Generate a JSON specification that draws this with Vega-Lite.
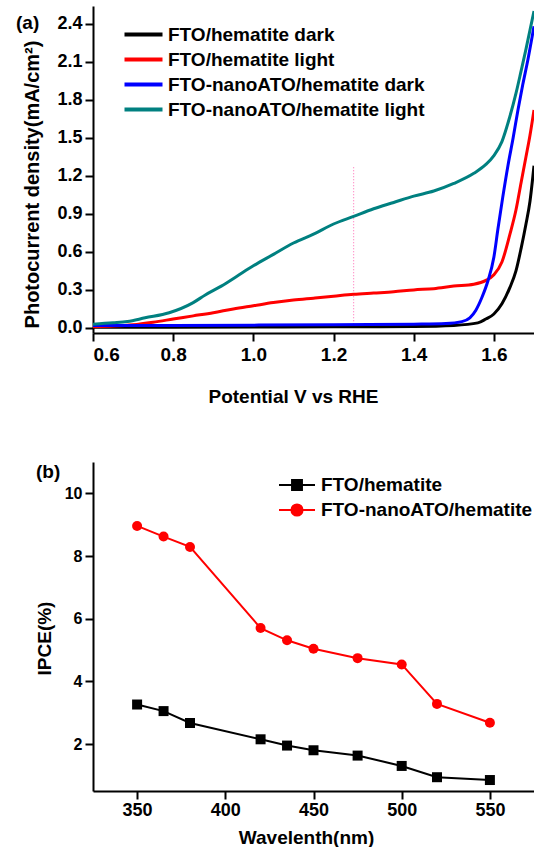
{
  "$schema": "https://vega.github.io/schema/vega-lite/v6.json",
  "background": "white",
  "padding": {"left": 16, "top": 6, "right": 0, "bottom": 0},
  "spacing": 56,
  "config": {
    "font": "Liberation Sans",
    "view": {"stroke": null},
    "axis": {"domainColor": "black", "domainWidth": 2, "tickColor": "black", "tickWidth": 2, "tickSize": 8, "labelColor": "black", "labelFont": "Liberation Sans", "labelFontWeight": "bold", "titleColor": "black", "titleFont": "Liberation Sans", "titleFontWeight": "bold", "grid": false},
    "legend": {"labelFont": "Liberation Sans", "labelFontWeight": "bold", "labelFontSize": 19, "labelColor": "black", "labelLimit": 500, "padding": 0}
  },
  "resolve": {"scale": {"color": "independent"}, "legend": {"color": "independent"}},
  "vconcat": [
    {
      "width": 441,
      "height": 327,
      "title": {"text": "(a)", "anchor": "start", "frame": "group", "dx": -77, "offset": -27, "fontSize": 19, "fontWeight": "bold", "font": "Liberation Sans", "color": "black"},
      "layer": [
        {
          "data": {"values": [{"V": 1.25, "J": 0.03, "J2": 1.28}]},
          "mark": {"type": "rule", "color": "#ff7fbf", "strokeDash": [1, 2], "strokeWidth": 1.2},
          "encoding": {
            "x": {"field": "V", "type": "quantitative"},
            "y": {"field": "J", "type": "quantitative"},
            "y2": {"field": "J2"}
          }
        },
        {
          "data": {"values": [
            {"series": "FTO/hematite dark", "V": 0.6, "J": 0.005},
            {"series": "FTO/hematite dark", "V": 0.8, "J": 0.005},
            {"series": "FTO/hematite dark", "V": 1.0, "J": 0.007},
            {"series": "FTO/hematite dark", "V": 1.2, "J": 0.009},
            {"series": "FTO/hematite dark", "V": 1.4, "J": 0.012},
            {"series": "FTO/hematite dark", "V": 1.5, "J": 0.02},
            {"series": "FTO/hematite dark", "V": 1.56, "J": 0.04},
            {"series": "FTO/hematite dark", "V": 1.58, "J": 0.07},
            {"series": "FTO/hematite dark", "V": 1.6, "J": 0.11},
            {"series": "FTO/hematite dark", "V": 1.62, "J": 0.19},
            {"series": "FTO/hematite dark", "V": 1.64, "J": 0.32},
            {"series": "FTO/hematite dark", "V": 1.655, "J": 0.45},
            {"series": "FTO/hematite dark", "V": 1.668, "J": 0.63},
            {"series": "FTO/hematite dark", "V": 1.68, "J": 0.82},
            {"series": "FTO/hematite dark", "V": 1.69, "J": 1.0},
            {"series": "FTO/hematite dark", "V": 1.7, "J": 1.28},

            {"series": "FTO/hematite light", "V": 0.6, "J": 0.01},
            {"series": "FTO/hematite light", "V": 0.65, "J": 0.015},
            {"series": "FTO/hematite light", "V": 0.7, "J": 0.025},
            {"series": "FTO/hematite light", "V": 0.75, "J": 0.045},
            {"series": "FTO/hematite light", "V": 0.8, "J": 0.07},
            {"series": "FTO/hematite light", "V": 0.85, "J": 0.095},
            {"series": "FTO/hematite light", "V": 0.9, "J": 0.12},
            {"series": "FTO/hematite light", "V": 0.95, "J": 0.15},
            {"series": "FTO/hematite light", "V": 1.0, "J": 0.175},
            {"series": "FTO/hematite light", "V": 1.05, "J": 0.2},
            {"series": "FTO/hematite light", "V": 1.1, "J": 0.22},
            {"series": "FTO/hematite light", "V": 1.15, "J": 0.235},
            {"series": "FTO/hematite light", "V": 1.2, "J": 0.25},
            {"series": "FTO/hematite light", "V": 1.25, "J": 0.265},
            {"series": "FTO/hematite light", "V": 1.3, "J": 0.275},
            {"series": "FTO/hematite light", "V": 1.35, "J": 0.285},
            {"series": "FTO/hematite light", "V": 1.4, "J": 0.3},
            {"series": "FTO/hematite light", "V": 1.45, "J": 0.31},
            {"series": "FTO/hematite light", "V": 1.5, "J": 0.33},
            {"series": "FTO/hematite light", "V": 1.55, "J": 0.345},
            {"series": "FTO/hematite light", "V": 1.58, "J": 0.375},
            {"series": "FTO/hematite light", "V": 1.6, "J": 0.42},
            {"series": "FTO/hematite light", "V": 1.62, "J": 0.52},
            {"series": "FTO/hematite light", "V": 1.64, "J": 0.74},
            {"series": "FTO/hematite light", "V": 1.655, "J": 0.93},
            {"series": "FTO/hematite light", "V": 1.668, "J": 1.15},
            {"series": "FTO/hematite light", "V": 1.68, "J": 1.35},
            {"series": "FTO/hematite light", "V": 1.69, "J": 1.52},
            {"series": "FTO/hematite light", "V": 1.7, "J": 1.72},

            {"series": "FTO-nanoATO/hematite dark", "V": 0.6, "J": 0.02},
            {"series": "FTO-nanoATO/hematite dark", "V": 0.8, "J": 0.02},
            {"series": "FTO-nanoATO/hematite dark", "V": 1.0, "J": 0.022},
            {"series": "FTO-nanoATO/hematite dark", "V": 1.2, "J": 0.025},
            {"series": "FTO-nanoATO/hematite dark", "V": 1.4, "J": 0.03},
            {"series": "FTO-nanoATO/hematite dark", "V": 1.48, "J": 0.035},
            {"series": "FTO-nanoATO/hematite dark", "V": 1.52, "J": 0.05},
            {"series": "FTO-nanoATO/hematite dark", "V": 1.54, "J": 0.08},
            {"series": "FTO-nanoATO/hematite dark", "V": 1.555, "J": 0.14},
            {"series": "FTO-nanoATO/hematite dark", "V": 1.57, "J": 0.24},
            {"series": "FTO-nanoATO/hematite dark", "V": 1.585, "J": 0.37},
            {"series": "FTO-nanoATO/hematite dark", "V": 1.6, "J": 0.56},
            {"series": "FTO-nanoATO/hematite dark", "V": 1.61, "J": 0.78},
            {"series": "FTO-nanoATO/hematite dark", "V": 1.622, "J": 1.03},
            {"series": "FTO-nanoATO/hematite dark", "V": 1.635, "J": 1.28},
            {"series": "FTO-nanoATO/hematite dark", "V": 1.648, "J": 1.5},
            {"series": "FTO-nanoATO/hematite dark", "V": 1.66, "J": 1.72},
            {"series": "FTO-nanoATO/hematite dark", "V": 1.672, "J": 1.92},
            {"series": "FTO-nanoATO/hematite dark", "V": 1.685, "J": 2.12},
            {"series": "FTO-nanoATO/hematite dark", "V": 1.7, "J": 2.38},

            {"series": "FTO-nanoATO/hematite light", "V": 0.6, "J": 0.03},
            {"series": "FTO-nanoATO/hematite light", "V": 0.65, "J": 0.04},
            {"series": "FTO-nanoATO/hematite light", "V": 0.686, "J": 0.05},
            {"series": "FTO-nanoATO/hematite light", "V": 0.73, "J": 0.08},
            {"series": "FTO-nanoATO/hematite light", "V": 0.79, "J": 0.12},
            {"series": "FTO-nanoATO/hematite light", "V": 0.85, "J": 0.2},
            {"series": "FTO-nanoATO/hematite light", "V": 0.88, "J": 0.26},
            {"series": "FTO-nanoATO/hematite light", "V": 0.92, "J": 0.33},
            {"series": "FTO-nanoATO/hematite light", "V": 0.96, "J": 0.41},
            {"series": "FTO-nanoATO/hematite light", "V": 1.0, "J": 0.49},
            {"series": "FTO-nanoATO/hematite light", "V": 1.05, "J": 0.58},
            {"series": "FTO-nanoATO/hematite light", "V": 1.1, "J": 0.67},
            {"series": "FTO-nanoATO/hematite light", "V": 1.15, "J": 0.74},
            {"series": "FTO-nanoATO/hematite light", "V": 1.2, "J": 0.82},
            {"series": "FTO-nanoATO/hematite light", "V": 1.25, "J": 0.88},
            {"series": "FTO-nanoATO/hematite light", "V": 1.3, "J": 0.94},
            {"series": "FTO-nanoATO/hematite light", "V": 1.35, "J": 0.99},
            {"series": "FTO-nanoATO/hematite light", "V": 1.4, "J": 1.04},
            {"series": "FTO-nanoATO/hematite light", "V": 1.45, "J": 1.08},
            {"series": "FTO-nanoATO/hematite light", "V": 1.5, "J": 1.14},
            {"series": "FTO-nanoATO/hematite light", "V": 1.55, "J": 1.22},
            {"series": "FTO-nanoATO/hematite light", "V": 1.58, "J": 1.29},
            {"series": "FTO-nanoATO/hematite light", "V": 1.6, "J": 1.36},
            {"series": "FTO-nanoATO/hematite light", "V": 1.62, "J": 1.47},
            {"series": "FTO-nanoATO/hematite light", "V": 1.64, "J": 1.67},
            {"series": "FTO-nanoATO/hematite light", "V": 1.655, "J": 1.85},
            {"series": "FTO-nanoATO/hematite light", "V": 1.668, "J": 2.03},
            {"series": "FTO-nanoATO/hematite light", "V": 1.68, "J": 2.2},
            {"series": "FTO-nanoATO/hematite light", "V": 1.69, "J": 2.35},
            {"series": "FTO-nanoATO/hematite light", "V": 1.7, "J": 2.5}
          ]},
          "mark": {"type": "line", "strokeWidth": 3, "interpolate": "monotone", "clip": true},
          "encoding": {
            "x": {"field": "V", "type": "quantitative", "scale": {"domain": [0.6, 1.7], "nice": false, "zero": false},
                  "axis": {"title": "Potential V vs RHE", "values": [0.6, 0.8, 1.0, 1.2, 1.4, 1.6], "format": ".1f", "labelFontSize": 19, "labelPadding": 4, "titleFontSize": 19, "titlePadding": 23, "titleX": 200}},
            "y": {"field": "J", "type": "quantitative", "scale": {"domain": [-0.04, 2.54], "nice": false, "zero": false},
                  "axis": {"title": "Photocurrent density(mA/cm²)", "values": [0, 0.3, 0.6, 0.9, 1.2, 1.5, 1.8, 2.1, 2.4], "format": ".1f", "labelFontSize": 18, "labelPadding": 3, "titleFontSize": 20, "titlePadding": 14, "titleY": 178}},
            "color": {"field": "series", "type": "nominal",
                      "scale": {"domain": ["FTO/hematite dark", "FTO/hematite light", "FTO-nanoATO/hematite dark", "FTO-nanoATO/hematite light"], "range": ["#000000", "#ff0000", "#0000ff", "#008080"]},
                      "legend": {"title": null, "orient": "none", "legendX": 39, "legendY": 17, "symbolType": "M-2,0H2", "symbolSize": 361, "symbolStrokeWidth": 4, "labelOffset": 13, "rowPadding": 3}}
          }
        }
      ]
    },
    {
      "width": 441,
      "height": 329,
      "title": {"text": "(b)", "anchor": "start", "frame": "group", "dx": -57, "offset": -20, "fontSize": 19, "fontWeight": "bold", "font": "Liberation Sans", "color": "black"},
      "data": {"values": [
        {"series": "FTO/hematite", "wl": 350, "ipce": 3.26},
        {"series": "FTO/hematite", "wl": 365, "ipce": 3.05},
        {"series": "FTO/hematite", "wl": 380, "ipce": 2.67},
        {"series": "FTO/hematite", "wl": 420, "ipce": 2.15},
        {"series": "FTO/hematite", "wl": 435, "ipce": 1.95},
        {"series": "FTO/hematite", "wl": 450, "ipce": 1.8},
        {"series": "FTO/hematite", "wl": 475, "ipce": 1.63},
        {"series": "FTO/hematite", "wl": 500, "ipce": 1.3},
        {"series": "FTO/hematite", "wl": 520, "ipce": 0.94},
        {"series": "FTO/hematite", "wl": 550, "ipce": 0.85},
        {"series": "FTO-nanoATO/hematite", "wl": 350, "ipce": 8.96},
        {"series": "FTO-nanoATO/hematite", "wl": 365, "ipce": 8.62},
        {"series": "FTO-nanoATO/hematite", "wl": 380, "ipce": 8.29},
        {"series": "FTO-nanoATO/hematite", "wl": 420, "ipce": 5.7},
        {"series": "FTO-nanoATO/hematite", "wl": 435, "ipce": 5.31},
        {"series": "FTO-nanoATO/hematite", "wl": 450, "ipce": 5.04},
        {"series": "FTO-nanoATO/hematite", "wl": 475, "ipce": 4.74},
        {"series": "FTO-nanoATO/hematite", "wl": 500, "ipce": 4.54},
        {"series": "FTO-nanoATO/hematite", "wl": 520, "ipce": 3.28},
        {"series": "FTO-nanoATO/hematite", "wl": 550, "ipce": 2.68}
      ]},
      "encoding": {
        "x": {"field": "wl", "type": "quantitative", "scale": {"domain": [325, 575], "nice": false, "zero": false},
              "axis": {"title": "Wavelenth(nm)", "values": [350, 400, 450, 500, 550], "labelFontSize": 18, "labelPadding": 2, "titleFontSize": 19, "titlePadding": 9, "titleX": 213}},
        "y": {"field": "ipce", "type": "quantitative", "scale": {"domain": [0.5, 11], "nice": false, "zero": false},
              "axis": {"title": "IPCE(%)", "values": [2, 4, 6, 8, 10], "labelFontSize": 16, "labelPadding": 3, "titleFontSize": 19, "titlePadding": 10, "titleY": 176}},
        "color": {"field": "series", "type": "nominal", "scale": {"domain": ["FTO/hematite", "FTO-nanoATO/hematite"], "range": ["#000000", "#ff0000"]},
          "legend": {"title": null, "orient": "none", "legendX": 194, "legendY": 13, "symbolSize": 324, "labelOffset": 14, "rowPadding": 5,
            "encode": {"symbols": {"update": {
              "shape": {"signal": "datum.value === 'FTO/hematite' ? 'M-2,0H2M-0.55,-0.55H0.55V0.55H-0.55Z' : 'M-2,0H2M0.62,0A0.62,0.62,0,1,1,-0.62,0A0.62,0.62,0,1,1,0.62,0Z'"},
              "fill": {"signal": "datum.value === 'FTO/hematite' ? '#000000' : '#ff0000'"},
              "stroke": {"signal": "datum.value === 'FTO/hematite' ? '#000000' : '#ff0000'"},
              "strokeWidth": {"value": 2},
              "opacity": {"value": 1}
            }}}}}
      },
      "layer": [
        {"mark": {"type": "line", "strokeWidth": 2}},
        {"transform": [{"filter": "datum.series === 'FTO/hematite'"}],
         "mark": {"type": "point", "shape": "square", "filled": true, "opacity": 1, "size": 100}},
        {"transform": [{"filter": "datum.series === 'FTO-nanoATO/hematite'"}],
         "mark": {"type": "point", "shape": "circle", "filled": true, "opacity": 1, "size": 100}}
      ]
    }
  ]
}
